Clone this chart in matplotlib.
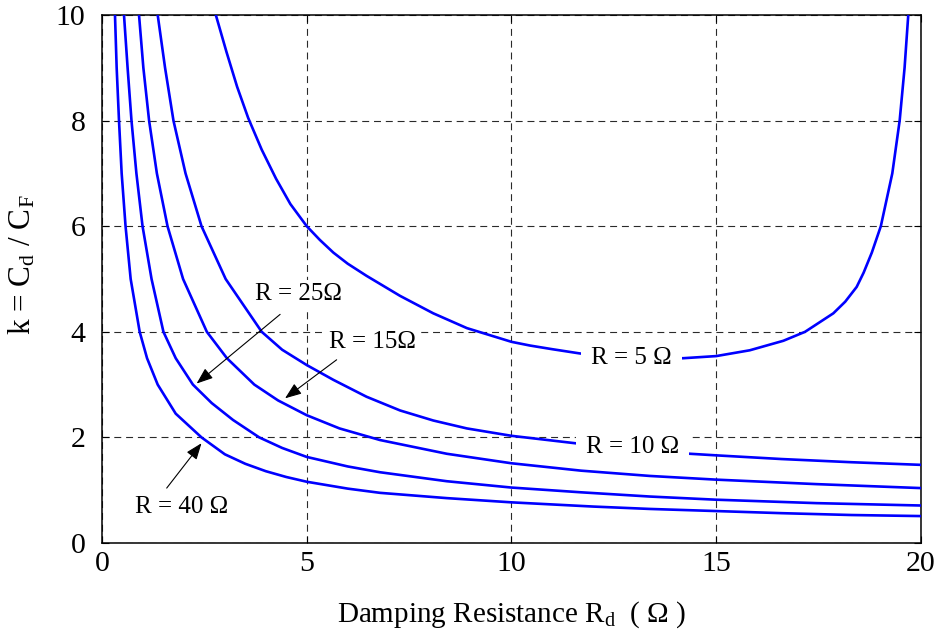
import matplotlib
matplotlib.use('Agg')
import matplotlib.pyplot as plt

# curve readings: damping resistance Rd (ohm) -> k = Cd / CF
rd_40 = [0.317, 0.358, 0.415, 0.48, 0.575, 0.70, 0.92, 1.10, 1.36, 1.80, 2.43, 3.0, 3.5, 4.0,
         4.5, 5.0, 6.0, 6.79, 8.42, 10.0, 12.0, 13.38, 15.0, 16.6, 18.3, 20.0]
k_40 = [10.0, 9.0, 8.0, 7.0, 6.0, 5.0, 4.0, 3.5, 3.0, 2.45, 2.0, 1.68, 1.50, 1.36,
        1.25, 1.16, 1.03, 0.95, 0.85, 0.77, 0.69, 0.645, 0.605, 0.565, 0.53, 0.51]

rd_25 = [0.537, 0.625, 0.72, 0.84, 0.99, 1.21, 1.50, 1.80, 2.22, 2.68, 3.2, 3.84, 4.4, 5.0,
         6.0, 6.79, 8.42, 10.0, 11.7, 13.38, 15.0, 17.45, 20.0]
k_25 = [10.0, 9.0, 8.0, 7.0, 6.0, 5.0, 4.0, 3.5, 3.0, 2.65, 2.33, 2.0, 1.80, 1.63,
        1.45, 1.34, 1.17, 1.05, 0.96, 0.88, 0.82, 0.755, 0.71]

rd_15 = [0.904, 1.01, 1.15, 1.34, 1.60, 1.98, 2.56, 3.05, 3.72, 4.3, 5.0, 5.8, 6.79, 8.42,
         10.0, 11.7, 13.38, 15.0, 17.45, 20.0]
k_15 = [10.0, 9.0, 8.0, 7.0, 6.0, 5.0, 4.0, 3.5, 3.0, 2.70, 2.42, 2.17, 1.95, 1.69,
        1.51, 1.37, 1.27, 1.20, 1.115, 1.04]

rd_10 = [1.36, 1.54, 1.745, 2.04, 2.43, 3.02, 3.90, 4.4, 5.0, 5.65, 6.46, 7.28, 8.09, 8.91,
         10.0, 11.55, 13.0, 14.36, 15.0, 16.6, 18.3, 20.0]
k_10 = [10.0, 9.0, 8.0, 7.0, 6.0, 5.0, 4.0, 3.66, 3.37, 3.09, 2.77, 2.51, 2.32, 2.17,
        2.03, 1.89, 1.77, 1.69, 1.66, 1.59, 1.53, 1.48]

rd_5 = [2.78, 3.04, 3.3, 3.57, 3.9, 4.25, 4.6, 5.0, 5.32, 5.65, 6.0, 6.46, 7.28, 8.09, 8.91,
        10.0, 10.45, 11.0, 11.67, 12.3, 13.0, 13.6, 14.2, 15.0, 15.82, 16.64, 17.17, 17.86,
        18.15, 18.43, 18.6, 18.8, 19.02, 19.16, 19.3, 19.48, 19.6, 19.69]
k_5 = [10.0, 9.3, 8.64, 8.05, 7.45, 6.9, 6.42, 6.0, 5.74, 5.50, 5.29, 5.06, 4.68, 4.35, 4.07,
       3.81, 3.74, 3.67, 3.59, 3.54, 3.50, 3.49, 3.50, 3.54, 3.65, 3.83, 4.0, 4.35,
       4.57, 4.85, 5.12, 5.5, 6.0, 6.5, 7.0, 8.0, 9.0, 10.0]

curves = [(rd_40, k_40), (rd_25, k_25), (rd_15, k_15), (rd_10, k_10), (rd_5, k_5)]

x_ticks = [0, 5, 10, 15, 20]
y_ticks = [0, 2, 4, 6, 8, 10]

plt.rcParams['font.family'] = ['Liberation Serif', 'DejaVu Serif']
plt.rcParams['mathtext.fontset'] = 'custom'
plt.rcParams['mathtext.rm'] = 'Liberation Serif'
plt.rcParams['mathtext.it'] = 'Liberation Serif:italic'
plt.rcParams['lines.scale_dashes'] = False

fig = plt.figure(figsize=(9.41, 6.38), dpi=100)
ax = fig.add_axes([0.1084, 0.1489, 0.8703, 0.8276])

for rd, k in curves:
    ax.plot(rd, k, color='#0000ff', lw=1.9, zorder=3, solid_joinstyle='round')

ax.set_xlim(0, 20)
ax.set_ylim(0, 10)
ax.set_xticks(x_ticks)
ax.set_yticks(y_ticks)
ax.grid(True, color='#2a2a2a', lw=0.8, linestyle=(0, (5, 3.5)))
ax.tick_params(direction='in', length=5, width=0.8, top=True, right=True, labelsize=21.5)
ax.tick_params(axis='x', pad=6)
ax.tick_params(axis='y', pad=12)
for s in ax.spines.values():
    s.set_linewidth(1.1)

ax.set_xlabel(r'Damping Resistance R$_{\mathrm{d}}$  ( $\Omega$ )', fontsize=21, labelpad=16)
ax.set_ylabel(r'k = C$_{\mathrm{d}}$ / C$_{\mathrm{F}}$', fontsize=22.5, va='center')
ax.yaxis.set_label_coords(-0.097, 0.527)

# (text, x, y, box padding)
labels = [('R = 25Ω', 4.80, 4.72, 0.12), ('R = 15Ω', 6.61, 3.80, 0.12),
          ('R = 40 Ω', 1.94, 0.68, 0.12), ('R = 5 Ω', 12.93, 3.51, 0.4),
          ('R = 10 Ω', 12.95, 1.81, 0.4)]
for txt, x, y, pad in labels:
    ax.text(x, y, txt, fontsize=18, ha='center', va='center', zorder=5,
            bbox=dict(boxstyle=f'square,pad={pad}', fc='white', ec='none'))

arrows = [((4.35, 4.33), (2.31, 3.02)), ((5.73, 3.47), (4.47, 2.74)), ((1.58, 1.04), (2.43, 1.89))]
for start, tip in arrows:
    ax.annotate('', xy=tip, xytext=start, zorder=6,
                arrowprops=dict(arrowstyle='-|>,head_length=1.0,head_width=0.38',
                                color='black', lw=0.8, shrinkA=0, shrinkB=0))

fig.savefig('out.png', dpi=100)
